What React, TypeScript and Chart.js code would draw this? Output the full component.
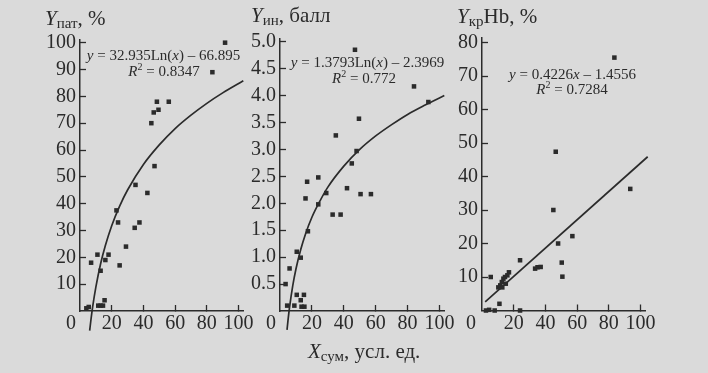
import { useEffect, useRef } from "react";
import { Chart, registerables } from "chart.js";

Chart.register(...registerables);

const W = 708;
const H = 373;
const SERIF = "'Liberation Serif', 'Times New Roman', serif";
const INK = "#2b2b2b";
const BG = "#dadada";
const Y_AXIS_W = 48;
const X_AXIS_H = 36;
const TICK_FONT = 20;

// shared x ticks
const xTickValues = [20, 40, 60, 80, 100];

// Panel 1: Y пат, %
const patX = [91.5, 83.5, 48.5, 56, 46.5, 49.5, 45, 47, 35, 42.5, 23, 24, 37.5, 34.5, 29, 11, 18, 16, 7, 25, 13, 15.5, 11.5, 13, 14.5, 4, 5.5];
const patY = [100, 89, 78, 78, 74, 75, 70, 54, 47, 44, 37.5, 33, 33, 31, 24, 21, 21, 19, 18, 17, 15, 4, 2, 2, 2, 1, 1.5];
const patCurveX = [6.1, 7, 8, 10, 13, 16, 20, 25, 30, 40, 50, 60, 70, 80, 90, 103];
const patCurveY = [-7.3, -2.8, 1.6, 8.9, 17.6, 24.4, 31.8, 39.1, 45.1, 54.6, 61.9, 68.0, 73.0, 77.4, 81.3, 85.8];
const patYTicks = [10, 20, 30, 40, 50, 60, 70, 80, 90, 100];

// Panel 2: Y ин, балл
const inX = [47, 84, 93, 49.5, 35, 48, 45, 24, 17, 42, 29, 50.5, 57, 16, 24, 33, 38, 17.5, 10.5, 13, 6, 3.5, 10.5, 15, 13, 4.5, 9, 13.5, 15.3];
const inY = [4.85, 4.17, 3.88, 3.57, 3.26, 2.97, 2.74, 2.48, 2.4, 2.28, 2.19, 2.17, 2.17, 2.09, 1.98, 1.79, 1.79, 1.48, 1.1, 0.99, 0.79, 0.5, 0.3, 0.3, 0.2, 0.1, 0.1, 0.08, 0.08];
const inCurveX = [4.4, 5, 6, 8, 10, 13, 16, 20, 25, 30, 40, 50, 60, 70, 80, 90, 103];
const inCurveY = [-0.35, -0.18, 0.07, 0.47, 0.78, 1.14, 1.43, 1.74, 2.04, 2.3, 2.69, 3.0, 3.25, 3.46, 3.65, 3.81, 4.0];
const inYTicks = [0.5, 1.0, 1.5, 2.0, 2.5, 3.0, 3.5, 4.0, 4.5, 5.0];

// Panel 3: Y кр Hb, %
const krX = [83.5, 46.5, 93.5, 45, 48, 57, 50.3, 50.7, 24, 33.5, 35, 37, 5.5, 17, 10.3, 11.5, 12.8, 12.5, 13.5, 14.5, 15, 16, 11, 2.5, 4.5, 8, 24];
const krY = [75.5, 47.4, 36.3, 30, 20, 22.2, 14.3, 10.1, 15, 12.5, 12.9, 13, 10, 11.4, 6.9, 7.5, 6.9, 8.5, 9.5, 10, 8, 10.5, 2, 0, 0.2, 0, 0];
const krLineX = [2, 104.5];
const krLineY = [2.6, 45.9];
const krYTicks = [10, 20, 30, 40, 50, 60, 70, 80];

type Seg = { t: string; size?: number; italic?: boolean; dy?: number };
type TextItem = { x: number; y: number; align: "left" | "center"; segs: Seg[] };

type Panel = {
  key: string;
  xMax: number;
  yMin: number;
  yMax: number;
  area: { left: number; right: number; top: number; bottom: number };
  yTicks: number[];
  yDigits: number;
  ptsX: number[];
  ptsY: number[];
  curveX: number[];
  curveY: number[];
  curved: boolean;
  zeroOffset: number;
  texts: TextItem[];
};

const EQ = 15;
const TT = 21;
const SUB = 15;

const panels: Panel[] = [
  {
    key: "pat",
    xMax: 103,
    yMin: 0,
    yMax: 101,
    area: { left: 80, right: 243.3, top: 40, bottom: 311 },
    yTicks: patYTicks,
    yDigits: 0,
    ptsX: patX,
    ptsY: patY,
    curveX: patCurveX,
    curveY: patCurveY,
    curved: true,
    zeroOffset: 9,
    texts: [
      { x: 45, y: 25, align: "left", segs: [{ t: "Y", size: TT, italic: true }, { t: "пат", size: SUB, dy: 3 }, { t: ", %", size: TT }] },
      { x: 163.5, y: 60, align: "center", segs: [{ t: "y", italic: true }, { t: " = 32.935Ln(" }, { t: "x", italic: true }, { t: ") – 66.895" }] },
      { x: 164, y: 76, align: "center", segs: [{ t: "R", italic: true }, { t: "2", size: 10, dy: -6 }, { t: " = 0.8347" }] },
    ],
  },
  {
    key: "in",
    xMax: 103,
    yMin: 0,
    yMax: 5.05,
    area: { left: 280, right: 444.3, top: 39, bottom: 311 },
    yTicks: inYTicks,
    yDigits: 1,
    ptsX: inX,
    ptsY: inY,
    curveX: inCurveX,
    curveY: inCurveY,
    curved: true,
    zeroOffset: 9,
    texts: [
      { x: 251, y: 22, align: "left", segs: [{ t: "Y", size: TT, italic: true }, { t: "ин", size: SUB, dy: 3 }, { t: ", балл", size: TT }] },
      { x: 367.5, y: 66.5, align: "center", segs: [{ t: "y", italic: true }, { t: " = 1.3793Ln(" }, { t: "x", italic: true }, { t: ") – 2.3969" }] },
      { x: 364, y: 83, align: "center", segs: [{ t: "R", italic: true }, { t: "2", size: 10, dy: -6 }, { t: " = 0.772" }] },
      { x: 308, y: 358, align: "left", segs: [{ t: "X", size: TT, italic: true }, { t: "сум", size: SUB, dy: 3 }, { t: ", усл. ед.", size: TT }] },
    ],
  },
  {
    key: "kr",
    xMax: 103,
    yMin: 0,
    yMax: 81.5,
    area: { left: 482, right: 645.3, top: 37.5, bottom: 310.5 },
    yTicks: krYTicks,
    yDigits: 0,
    ptsX: krX,
    ptsY: krY,
    curveX: krLineX,
    curveY: krLineY,
    curved: false,
    zeroOffset: 11,
    texts: [
      { x: 457, y: 23, align: "left", segs: [{ t: "Y", size: TT, italic: true }, { t: "кр", size: SUB, dy: 3 }, { t: "Hb, %", size: TT }] },
      { x: 572.5, y: 79, align: "center", segs: [{ t: "y", italic: true }, { t: " = 0.4226" }, { t: "x", italic: true }, { t: " – 1.4556" }] },
      { x: 572, y: 94, align: "center", segs: [{ t: "R", italic: true }, { t: "2", size: 10, dy: -6 }, { t: " = 0.7284" }] },
    ],
  },
];

const fontOf = (s: Seg) => `${s.italic ? "italic " : ""}${s.size ?? EQ}px ${SERIF}`;

function textPlugin(p: Panel) {
  return {
    id: "richText_" + p.key,
    afterDraw(chart: any) {
      const ctx: CanvasRenderingContext2D = chart.ctx;
      ctx.save();
      ctx.fillStyle = INK;
      ctx.textBaseline = "alphabetic";
      ctx.textAlign = "left";
      for (const it of p.texts) {
        const widths = it.segs.map((s) => {
          ctx.font = fontOf(s);
          return ctx.measureText(s.t).width;
        });
        const total = widths.reduce((a, b) => a + b, 0);
        let x = it.align === "center" ? it.x - total / 2 : it.x;
        it.segs.forEach((s, i) => {
          ctx.font = fontOf(s);
          ctx.fillText(s.t, x, it.y + (s.dy ?? 0));
          x += widths[i];
        });
      }
      // origin "0" label
      const xs = chart.scales.x;
      const ys = chart.scales.y;
      ctx.font = `${TICK_FONT}px ${SERIF}`;
      ctx.textAlign = "center";
      ctx.textBaseline = "middle";
      ctx.fillText("0", xs.getPixelForValue(0) - p.zeroOffset, ys.getPixelForValue(0) + 13);
      ctx.restore();
    },
  };
}

function PanelChart({ p }: { p: Panel }) {
  const ref = useRef<HTMLCanvasElement>(null);
  useEffect(() => {
    const canvas = ref.current;
    if (!canvas) return;
    const pts = p.ptsX.map((x, i) => ({ x, y: p.ptsY[i] }));
    const curve = p.curveX.map((x, i) => ({ x, y: p.curveY[i] }));
    const chart = new Chart(canvas, {
      type: "scatter",
      data: {
        datasets: [
          {
            type: "line",
            data: curve,
            borderColor: INK,
            borderWidth: 1.7,
            pointRadius: 0,
            tension: p.curved ? 0.4 : 0,
            cubicInterpolationMode: p.curved ? "monotone" : "default",
            capBezierPoints: false,
            clip: false,
            fill: false,
          } as any,
          {
            type: "scatter",
            data: pts,
            pointStyle: "rect",
            pointRadius: 3.2,
            backgroundColor: INK,
            borderWidth: 0,
            clip: false,
          } as any,
        ],
      },
      options: {
        animation: false,
        responsive: false,
        events: [],
        layout: {
          padding: {
            left: p.area.left - Y_AXIS_W,
            right: W - p.area.right,
            top: p.area.top,
            bottom: H - p.area.bottom - X_AXIS_H,
          },
        },
        plugins: { legend: { display: false }, tooltip: { enabled: false } },
        scales: {
          x: {
            type: "linear",
            position: "bottom",
            min: 0,
            max: p.xMax,
            afterBuildTicks: (s: any) => {
              s.ticks = xTickValues.map((v) => ({ value: v }));
            },
            afterFit: (s: any) => {
              s.height = X_AXIS_H;
              s.paddingLeft = 0;
              s.paddingRight = 0;
            },
            grid: { drawOnChartArea: false, tickLength: -6, tickWidth: 1.3, tickColor: INK },
            border: { color: INK, width: 1.5 },
            ticks: {
              font: { family: SERIF, size: TICK_FONT },
              color: INK,
              padding: 7,
              maxRotation: 0,
              autoSkip: false,
              callback: (v: any) => String(v),
            },
          },
          y: {
            type: "linear",
            position: "left",
            min: p.yMin,
            max: p.yMax,
            afterBuildTicks: (s: any) => {
              s.ticks = p.yTicks.map((v) => ({ value: v }));
            },
            afterFit: (s: any) => {
              s.width = Y_AXIS_W;
              s.paddingTop = 0;
              s.paddingBottom = 0;
            },
            grid: { drawOnChartArea: false, tickLength: -6, tickWidth: 1.3, tickColor: INK },
            border: { color: INK, width: 1.5 },
            ticks: {
              font: { family: SERIF, size: TICK_FONT },
              color: INK,
              padding: 10,
              autoSkip: false,
              callback: (v: any) => Number(v).toFixed(p.yDigits),
            },
          },
        },
      },
      plugins: [textPlugin(p)],
    });
    return () => chart.destroy();
  }, [p]);
  return (
    <canvas
      ref={ref}
      width={W}
      height={H}
      style={{ position: "absolute", left: 0, top: 0, width: W, height: H }}
    />
  );
}

export default function App() {
  return (
    <div style={{ position: "absolute", left: 0, top: 0, width: W, height: H, background: BG, overflow: "hidden" }}>
      {panels.map((p) => (
        <PanelChart key={p.key} p={p} />
      ))}
    </div>
  );
}
